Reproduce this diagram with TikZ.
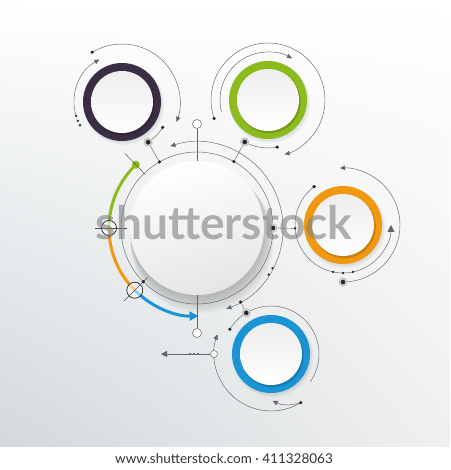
\documentclass[tikz,border=0pt]{standalone}
\usepackage{fontspec}
\setmainfont{Lato}
\usepackage{tikz}
\usetikzlibrary{shapes,arrows.meta,shadings}
\usetikzlibrary{positioning,calc}
\definecolor{inkpurple}{RGB}{58,46,68}
\definecolor{inkgreen}{RGB}{140,187,30}
\definecolor{inkorange}{RGB}{240,152,16}
\definecolor{inkblue}{RGB}{26,148,212}
\definecolor{wiregrey}{RGB}{100,100,106}
\definecolor{bggrey}{RGB}{210,217,220}
\tikzset{
  wire/.style={draw=wiregrey, line width=0.45pt},
  dot/.style={circle, fill=black!85, inner sep=0pt, minimum size=3.6pt},
  tinydot/.style={circle, fill=black!85, inner sep=0pt, minimum size=2.6pt},
  bigdot/.style={circle, fill=black!85, draw=black!22, line width=2pt, inner sep=0pt, minimum size=7pt},
  hollow/.style={circle, draw=wiregrey, fill=white, line width=0.5pt, inner sep=0pt, minimum size=9pt},
  lens/.style={circle, draw=black!80, fill=white, fill opacity=0.55, line width=0.8pt, inner sep=0pt, minimum size=#1},
  paper/.style={circle, minimum size=134pt, inner sep=0pt},
  ringpos/.style={circle, minimum size=78pt, inner sep=0pt}
}

\begin{document}
\begin{tikzpicture}[x=1pt, y=1pt, > = {Triangle[length=5pt,width=4.5pt]}, on grid]
  \useasboundingbox (0,0) rectangle (450,470);
  % backdrop
  \shade[upper left=white, upper right=white, lower left=bggrey, lower right=black!6] (0,23) rectangle (450,470);
  \fill[white] (0,0) rectangle (450,23);

  % centres
  \node[paper]   (hub)                                          at (197,242) {};
  \node[ringpos] (purplering) [above left=126pt and 75pt of hub]  {};
  \node[ringpos] (greenring)  [above right=128pt and 71pt of hub] {};
  \node[ringpos] (orangering) [above right=3pt and 146pt of hub]  {};
  \node[ringpos] (bluering)   [below right=126pt and 74pt of hub] {};

  % soft shadows
  \foreach \s in {1,...,14}
    \fill[black, opacity=0.016] ($(hub)+({0.5+0.35*\s},{-1-0.9*\s})$) circle[radius={67pt+0.35pt*\s}];
  \foreach \n in {purplering,greenring,orangering,bluering}
    \foreach \s in {1,...,5}
      \fill[black, opacity=0.022] ($(\n)+({0.4*\s},{-0.6*\s})$) circle[radius={38.5pt+0.4pt*\s}];

  % wires round the hub
  \draw[wire] (hub) circle[radius=76pt];
  \draw[wire,<->] ($(hub)+(-70:86pt)$) arc[start angle=-70, end angle=108, radius=86pt];

  % wires round the purple ring
  \draw[wire,->] ($(purplering)+(121:58pt)$) arc[start angle=121, end angle=-20, radius=58pt];
  \draw[wire,->] ($(purplering)+(197:48pt)$) arc[start angle=197, end angle=118, radius=48pt];
  \draw[wire] ($(purplering)+(-32:48pt)$) arc[start angle=-32, end angle=-60, radius=48pt];

  % wires round the green ring
  \draw[wire,->] ($(greenring)+(199:57pt)$) arc[start angle=199, end angle=-73, radius=57pt];
  \draw[wire,->] ($(greenring)+(195:48pt)$) arc[start angle=195, end angle=60, radius=48pt];
  \draw[wire] ($(greenring)+(241:48pt)$) arc[start angle=241, end angle=281, radius=48pt];

  % wires round the orange ring
  \draw[wire,->] ($(orangering)+(-90:57pt)$) arc[start angle=-90, end angle=93, radius=57pt];
  \draw[wire,-{Triangle[length=7pt,width=7pt]}] ($(orangering)+(127:48pt)$) arc[start angle=127, end angle=360, radius=48pt];

  % wires round the blue ring
  \draw[wire] ($(bluering)+(149:48pt)$) arc[start angle=149, end angle=-35, radius=48pt];
  \draw[wire,->] ($(bluering)+(301.5:57pt)$) arc[start angle=301.5, end angle=160, radius=57pt];

  % paper discs
  \shade[top color=white, bottom color=black!10, shading angle=15] (hub) circle[radius=67pt];
  \foreach \n/\c in {purplering/inkpurple, greenring/inkgreen, orangering/inkorange, bluering/inkblue} {
    \fill[\c] (\n) circle[radius=39pt];
    \fill[black, opacity=0.16] ($(\n)+(1.2,-1.8)$) circle[radius=31.5pt];
    \shade[top color=black!7, bottom color=white] (\n) circle[radius=31pt];
  }

  % coloured track
  \draw[inkgreen, line width=3pt] ($(hub)+(134:88pt)$) arc[start angle=134, end angle=180, radius=88pt];
  \draw[inkorange, line width=3pt] ($(hub)+(180:88pt)$) arc[start angle=180, end angle=225, radius=88pt];
  \draw[inkblue, line width=3pt, -{Triangle[length=9pt,width=9pt]}] ($(hub)+(225:88pt)$) arc[start angle=225, end angle=271, radius=88pt];
  \node[circle, fill=inkgreen, minimum size=8pt, inner sep=0pt] (tipdot) at ($(hub)+(134:88pt)$) {};
  \node[lens=15pt] (lenswest)  at ($(hub)+(180:88pt)$) {};
  \node[lens=16pt] (lenssouth) at ($(hub)+(225:88pt)$) {};
  \draw[black!70, line width=0.4pt] ($(hub)+(134:74pt)$) -- ($(hub)+(134:104pt)$);
  \draw[black!70, line width=0.4pt] ($(hub)+(180:70pt)$) -- ($(hub)+(180:102pt)$);
  \draw[black!70, line width=0.4pt] ($(hub)+(225:70pt)$) -- ($(hub)+(225:103pt)$);

  % dots on the hub wires
  \node[dot]    (hd1) at ($(hub)+(119.6:76pt)$) {};
  \node[dot]    (hd2) at ($(hub)+(61:76pt)$) {};
  \node[bigdot] (hd3) at ($(hub)+(0:76pt)$) {};
  \node[dot]    (hd4) at ($(hub)+(225:76pt)$) {};
  \node[tinydot] (hd5) at ($(hub)+(-28:85.5pt)$) {};
  \node[tinydot] (hd6) at ($(hub)+(-33:85.5pt)$) {};
  \node[dot]    (hd7) at ($(hub)+(-59.5:86pt)$) {};
  \node[hollow] (htop) [above=104pt of hub] {};
  \node[hollow] (hbot) [below=105pt of hub] {};

  % purple ring dots
  \node[dot]     (pd1)  at ($(purplering)+(121:58pt)$) {};
  \node[tinydot] (pd2)  at ($(purplering)+(197:48pt)$) {};
  \node[tinydot] (pd3)  at ($(purplering)+(203:48pt)$) {};
  \node[tinydot] (pd4)  at ($(purplering)+(209:48pt)$) {};
  \node[dot]     (pd5)  at ($(purplering)+(-32:48pt)$) {};
  \node[bigdot]  (pbig) at ($(purplering)+(-57:48pt)$) {};

  % green ring dots
  \node[dot]    (gd1)  at ($(greenring)+(199:57pt)$) {};
  \node[bigdot] (gbig) at ($(greenring)+(241:48pt)$) {};
  \node[dot]    (gd2)  at ($(greenring)+(281:48pt)$) {};

  % orange ring dots
  \node[bigdot]  (obig) at ($(orangering)+(-90:57pt)$) {};
  \node[dot]     (od1)  at ($(orangering)+(127:48pt)$) {};
  \node[tinydot] (odot) at ($(orangering)+(184:48pt)$) {};
  \node[tinydot] (od2)  at ($(orangering)+(258:48pt)$) {};
  \node[tinydot] (od3)  at ($(orangering)+(270:48pt)$) {};
  \node[tinydot] (od4)  at ($(orangering)+(282:48pt)$) {};

  % blue ring dots
  \node[dot]    (bd1)  at ($(bluering)+(149:48pt)$) {};
  \node[bigdot] (bbig) at ($(bluering)+(121:48pt)$) {};
  \node[dot]    (bd2)  at ($(bluering)+(301.5:57pt)$) {};
  \node[hollow, minimum size=7pt] (bhol) at ($(bluering)+(180:57pt)$) {};
  \coordinate (bhook) at ($(bluering)+(-88:47pt)$);
  \coordinate (bleft) at ($(bhol)+(-53,0)$);
  \node[tinydot, minimum size=2pt] (bt1) at ($(bhol)+(-24,0)$) {};
  \node[tinydot, minimum size=2pt] (bt2) at ($(bhol)+(-20,0)$) {};
  \node[tinydot, minimum size=2pt] (bt3) at ($(bhol)+(-16,0)$) {};

  % connectors
  \draw[wire] (htop) -- (hub.north);
  \draw[wire] (hbot) -- (hub.south);
  \draw[wire] (hd1) -- (pbig);
  \draw[wire] (hd2) -- (gbig);
  \draw[wire] (hd3) -- (odot);
  \draw[wire] (hd7) -- (bbig);
  \draw[wire,->] (bd2) to[bend left=20] (bhook);
  \draw[wire,-{Triangle[length=6pt,width=6pt]}] (bhol) -- (bleft);

  % watermark and credit line
  \node[anchor=base, font=\fontsize{46}{50}\selectfont\bfseries, text=black!50, opacity=0.6] (mark) at (224,230) {shutterstock};
  \node[font=\fontsize{13.5}{16}\selectfont, text=black!80] (credit) at (224,11) {www.shutterstock.com · 411328063};
\end{tikzpicture}
\end{document}
